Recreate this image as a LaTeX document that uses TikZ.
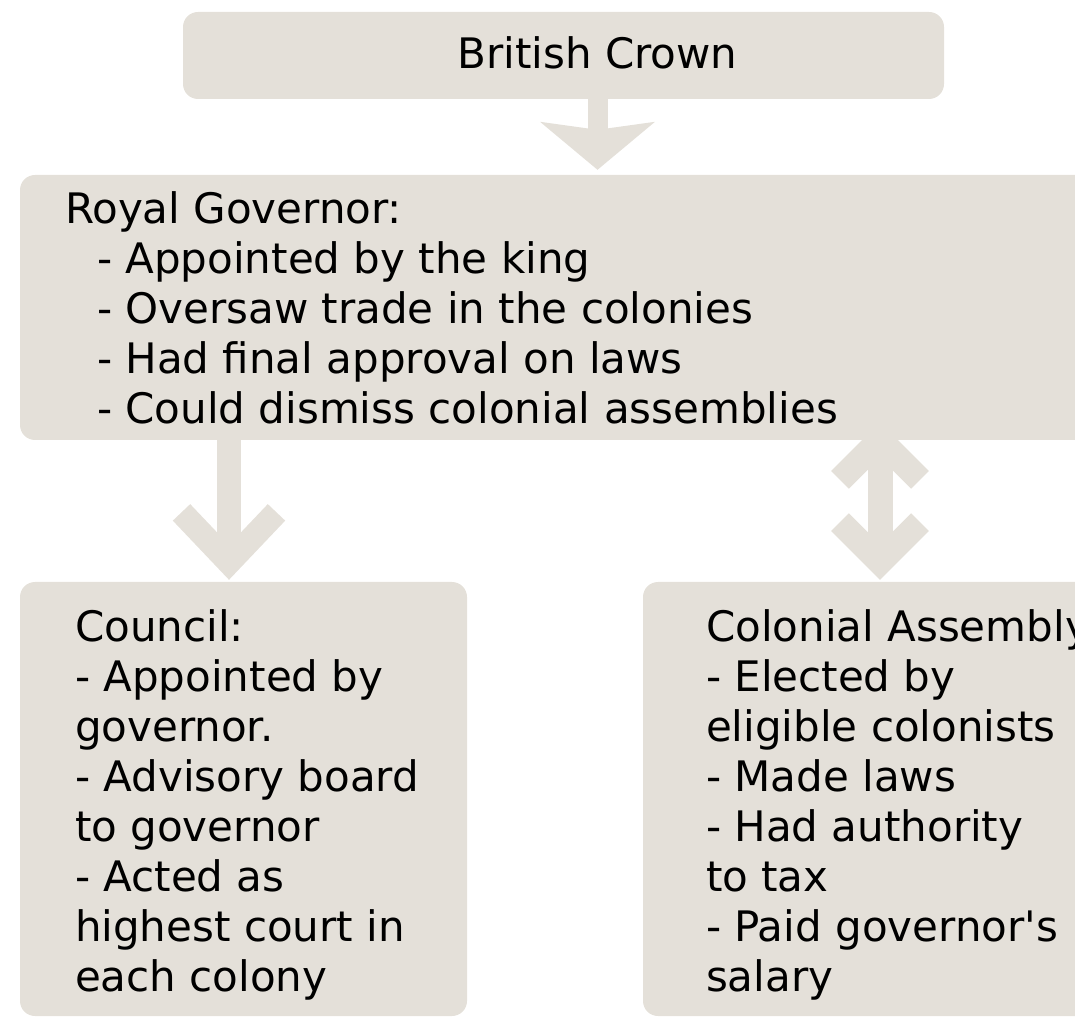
\documentclass[tikz,border=0pt]{standalone}
\usepackage{fontspec}
\setmainfont{DejaVu Sans}
\usepackage{tikz}
\usetikzlibrary{calc,arrows.meta,positioning,backgrounds}
\definecolor{boxgrey}{RGB}{228,224,217}
\tikzset{
  cbox/.style ={rectangle, rounded corners=15pt, fill=boxgrey, draw=none, inner sep=0pt},
  ctext/.style={inner sep=0pt, align=left, text=black,
                font=\fontsize{42}{50}\selectfont},
  carr/.style ={line width=20pt, boxgrey,
                -{Stealth[length=48pt, width=115pt, inset=8pt, line width=0pt]}},
  cbarb/.style={line width=24pt, boxgrey,
                -{Straight Barb[length=50pt, width=95pt]}},
  cdbl/.style ={line width=25pt, boxgrey,
                {Straight Barb[length=40pt, width=80pt]}-{Straight Barb[length=40pt, width=80pt]}},
}
\begin{document}
\begin{tikzpicture}[x=1pt, y=1pt]
\useasboundingbox (0,0) rectangle (1075,1018);
\clip (0,0) rectangle (1075,1018);
% boxes
\node[cbox, minimum width=761pt,  minimum height=87pt]  (crown)    at (563.5, 962.5) {};
\node[cbox, minimum width=1080pt, minimum height=265pt] (gov)      at (560, 710.5) {};
\node[cbox, minimum width=447pt,  minimum height=434pt] (council)  at (243.5, 219) {};
\node[cbox, minimum width=447pt,  minimum height=434pt] (assembly) at (866.5, 219) {};
% texts
\node[ctext] (crowntext) at ([xshift=34pt, yshift=3pt]crown.center) {British Crown};
\node[ctext, anchor=north west] (govtext) at ([shift={(45pt,-17pt)}]gov.north west)
  {Royal Governor:\\
   \hspace*{32pt}- Appointed by the king\\
   \hspace*{32pt}- Oversaw trade in the colonies\\
   \hspace*{32pt}- Had final approval on laws\\
   \hspace*{32pt}- Could dismiss colonial assemblies};
\node[ctext, anchor=north west] (counciltext) at ([shift={(55pt,-28pt)}]council.north west)
  {Council:\\- Appointed by\\governor.\\- Advisory board\\to governor\\- Acted as\\highest court in\\each colony};
\node[ctext, anchor=north west] (assemblytext) at ([shift={(63pt,-28pt)}]assembly.north west)
  {Colonial Assembly\\- Elected by\\eligible colonists\\- Made laws\\- Had authority\\to tax\\- Paid governor\textquotesingle s\\salary};
% arrows (behind the boxes)
\begin{scope}[on background layer]
\draw[carr]  ([xshift=34pt]crown.south) -- ([xshift=34pt, yshift=5pt]crown.south |- gov.north);
\draw[cbarb] ([xshift=-14.5pt]council.north |- gov.south) -- ([xshift=-14.5pt, yshift=2pt]council.north);
\draw[cdbl]  ([xshift=13.5pt, yshift=18pt]assembly.north |- gov.south) -- ([xshift=13.5pt, yshift=2pt]assembly.north);
\end{scope}
\end{tikzpicture}
\end{document}
